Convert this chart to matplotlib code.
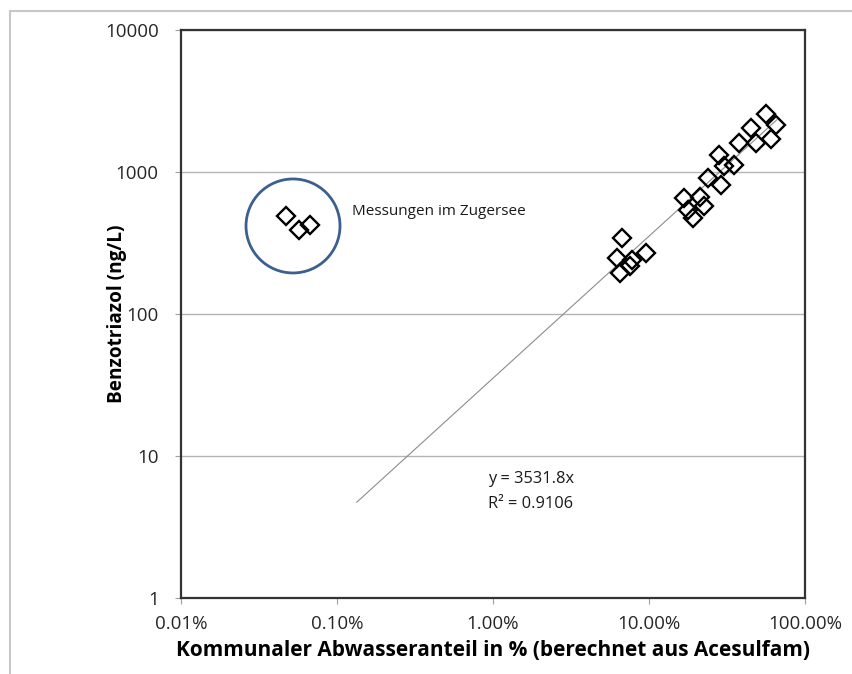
import matplotlib.pyplot as plt
import numpy as np
from matplotlib.patches import Ellipse
from matplotlib.ticker import FuncFormatter, FixedLocator, NullLocator

plt.rcParams['font.family'] = ['Open Sans', 'DejaVu Sans']

# Abwasseranteil (Anteil, nicht %) und Benzotriazol (ng/L)
river_x = [0.562, 0.652, 0.451, 0.605, 0.485, 0.378, 0.281, 0.303, 0.351, 0.239, 0.290,
           0.212, 0.168, 0.225, 0.191, 0.178,
           0.0671, 0.0624, 0.0778, 0.0957, 0.0652, 0.0755]
river_y = [2560, 2143, 2042, 1708, 1600, 1600, 1318, 1102, 1120, 907, 810,
           667, 656, 576, 474, 540,
           343, 248, 240, 269, 194, 218]

zug_x = [0.000471, 0.000571, 0.000671]
zug_y = [490, 391, 424]

slope = 3531.8
r2 = 0.9106
trend_x = [0.00134, 0.66]

fig = plt.figure(figsize=(8.52, 6.74), dpi=100)
ax = fig.add_axes([181 / 852, 76 / 674, 624 / 852, 568 / 674])

# outer frame of the chart area
fig.add_artist(plt.Line2D([10 / 852, 1], [1 - 11 / 674] * 2, transform=fig.transFigure,
                          color='#c8c8c8', lw=1.5))
fig.add_artist(plt.Line2D([10 / 852] * 2, [0, 1 - 11 / 674], transform=fig.transFigure,
                          color='#c8c8c8', lw=1.5))

ax.set_xscale('log')
ax.set_yscale('log')
ax.set_xlim(0.0001, 1)
ax.set_ylim(1, 10000)

ax.yaxis.grid(True, color='#b4b4b4', lw=1)
ax.set_axisbelow(True)

tx = np.array(trend_x)
ax.plot(tx, slope * tx, color='#8c8c8c', lw=0.8, zorder=2)

ax.plot(river_x, river_y, 'D', ms=8.8, mfc='none', mec='black', mew=1.7, zorder=3)
ax.plot(zug_x, zug_y, 'D', ms=8.8, mfc='none', mec='black', mew=1.7, zorder=3)

ax.add_patch(Ellipse((0.1795, 0.655), 94 / 624, 94 / 568, transform=ax.transAxes,
                     fill=False, ec='#3b5f8e', lw=2))

ax.text(0.00125, 523, 'Messungen im Zugersee', fontsize=11, va='center', ha='left', color='#1a1a1a')
ax.text(0.00929, 6.89, 'y = %.1fx' % slope, fontsize=11.8, va='center', ha='left', color='#1a1a1a')
ax.text(0.00929, 4.59, 'R² = %.4f' % r2, fontsize=11.8, va='center', ha='left', color='#1a1a1a')

ax.xaxis.set_major_locator(FixedLocator([0.0001, 0.001, 0.01, 0.1, 1]))
ax.xaxis.set_minor_locator(NullLocator())
ax.yaxis.set_major_locator(FixedLocator([1, 10, 100, 1000, 10000]))
ax.yaxis.set_minor_locator(NullLocator())
ax.xaxis.set_major_formatter(FuncFormatter(lambda v, p: '%.2f%%' % (v * 100)))
ax.yaxis.set_major_formatter(FuncFormatter(lambda v, p: '%d' % v))
ax.tick_params(axis='both', which='major', length=4, color='#a0a0a0', labelsize=13.5,
               labelcolor='#262626')
ax.tick_params(axis='x', pad=8)
ax.tick_params(axis='y', pad=12)

for s in ax.spines.values():
    s.set_color('#333333')
    s.set_linewidth(1.6)

ax.set_xlabel('Kommunaler Abwasseranteil in % (berechnet aus Acesulfam)', fontsize=15,
              fontweight='bold', labelpad=5)
ax.set_ylabel('Benzotriazol (ng/L)', fontsize=13.7, fontweight='bold')
ax.yaxis.set_label_coords(-0.087, 0.5)

fig.savefig('out.png', dpi=100)
